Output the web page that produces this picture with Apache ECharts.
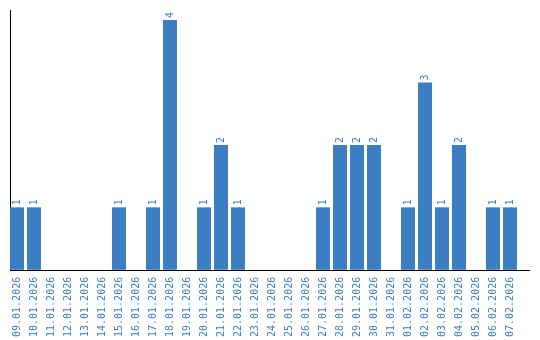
<!DOCTYPE html>
<html><head><meta charset="utf-8">
<script src="https://cdn.jsdelivr.net/npm/echarts@6/dist/echarts.min.js"></script>
<style>html,body{margin:0;padding:0;background:#fff}#c{width:540px;height:340px}</style>
</head><body><div id="c"></div>
<script>
var categories = ["09.01.2026","10.01.2026","11.01.2026","12.01.2026","13.01.2026","14.01.2026","15.01.2026","16.01.2026","17.01.2026","18.01.2026","19.01.2026","20.01.2026","21.01.2026","22.01.2026","23.01.2026","24.01.2026","25.01.2026","26.01.2026","27.01.2026","28.01.2026","29.01.2026","30.01.2026","31.01.2026","01.02.2026","02.02.2026","03.02.2026","04.02.2026","05.02.2026","06.02.2026","07.02.2026"];
var values = [1,1,0,0,0,0,1,0,1,4,0,1,2,1,0,0,0,0,1,2,2,2,0,1,3,1,2,0,1,1];

var blue = '#3b7ec3';
var chart = echarts.init(document.getElementById('c'), null, {renderer:'canvas'});
chart.setOption({
  animation: false,
  grid: {left: 8.5, top: 10, width: 510, height: 260, containLabel: false},
  xAxis: {
    type: 'category', data: categories, boundaryGap: true,
    axisLine: {show: false}, axisTick: {show: false}, splitLine: {show: false},
    axisLabel: {interval: 0, rotate: 90, margin: 7, color: blue, fontFamily: 'DejaVu Sans Mono', fontSize: 10}
  },
  yAxis: {
    type: 'value', min: 0, max: 4.16,
    axisLine: {show: false}, axisTick: {show: false}, axisLabel: {show: false}, splitLine: {show: false}
  },
  graphic: [
    {type: 'line', shape: {x1: 10.5, y1: 10, x2: 10.5, y2: 270}, style: {stroke: '#000', lineWidth: 1}, silent: true},
    {type: 'line', shape: {x1: 10, y1: 270.5, x2: 530, y2: 270.5}, style: {stroke: '#000', lineWidth: 1}, silent: true}
  ],
  series: [{
    type: 'bar', data: values.map(function(v){ return v === 0 ? null : v; }), barWidth: 14,
    itemStyle: {color: blue},
    label: {show: true, position: 'top', rotate: 90, align: 'left', verticalAlign: 'middle', distance: 2,
            color: blue, fontFamily: 'DejaVu Sans Mono', fontSize: 10}
  }]
});
</script></body></html>
